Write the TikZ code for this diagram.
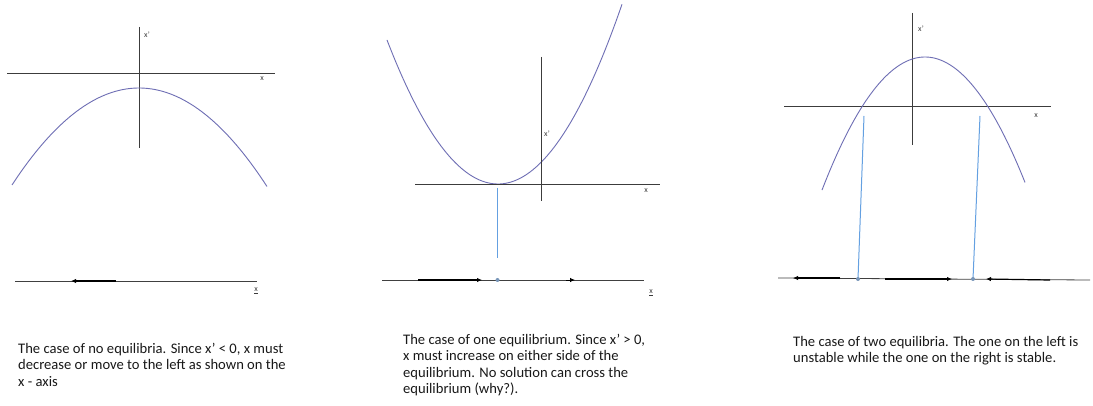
\documentclass[tikz,border=0pt]{standalone}
\usepackage{fontspec}
\setmainfont{Carlito}
\usetikzlibrary{arrows.meta}
\definecolor{axisgray}{RGB}{60,60,60}
\definecolor{curve}{RGB}{110,110,180}
\definecolor{eqblue}{RGB}{100,160,225}
\definecolor{dotblue}{RGB}{120,150,185}
\definecolor{txt}{RGB}{25,25,25}
\tikzset{
  axis/.style={draw=axisgray, line width=0.8pt},
  parab/.style={draw=curve, line width=0.9pt},
  eqline/.style={draw=eqblue, line width=1pt},
  xline/.style={draw=black!75, line width=0.8pt},
  flow/.style={draw=black, line width=1.2pt, -{Latex[length=5pt,width=4.5pt]}},
  eqdot/.style={circle, fill=dotblue, inner sep=0pt, minimum size=4pt},
  lab/.style={font=\fontsize{8}{9}\selectfont, text=axisgray, inner sep=0pt},
  caption/.style={font=\fontsize{14.6}{16.5}\selectfont, text=txt, align=left, anchor=north west, inner sep=0pt}
}
\begin{document}
\begin{tikzpicture}[x=1pt,y=-1pt]
\useasboundingbox[fill=white] (0,0) rectangle (1093,406);
% ---------- panel 1
\draw[axis] (139,27) -- (139,148);
\draw[axis] (7,73) -- (275,73);
\node[lab] (p1yl) at (147,35) {x’};
\node[lab] (p1xl) at (262,79) {x};
\draw[parab, domain=-127:128, samples=80, smooth] plot (\x+139, {88+0.00601*\x*\x});
\draw[xline] (15,281) -- (257,281);
\draw[flow] (116,281) -- (71,281);
\node[lab] (p1x) at (256,291) {\underline{x}};
% ---------- panel 2
\draw[parab, domain=-111:124, samples=80, smooth] plot (\x+498, {184-0.01169*\x*\x});
\draw[axis] (541,57) -- (541,201);
\draw[axis] (415,184) -- (660,184);
\node[lab] (p2yl) at (547,134) {x’};
\node[lab] (p2xl) at (646,191) {x};
\coordinate (e2top) at (497.5,188);
\coordinate (e2) at (497.5,280);
\draw[eqline] (e2top) -- (497.5,258);
\draw[xline] (382,280) -- (644,280);
\draw[flow] (418,280) -- (482,280);
\draw[flow, line width=0.8pt] (566,280) -- (575,280);
\node[eqdot] at (e2) {};
\node[lab] (p2x) at (651,293) {\underline{x}};
% ---------- panel 3
\draw[axis] (912,13) -- (912,145);
\draw[axis] (784,106) -- (1051,106);
\node[lab] (p3yl) at (921,29) {x’};
\node[lab] (p3xl) at (1036,116) {x};
\draw[parab, domain=-103:100, samples=80, smooth] plot (\x+925, {57+0.01254*\x*\x});
\coordinate (e3a) at (858,279);
\coordinate (e3b) at (973,279);
\draw[eqline] (864,116) -- (e3a);
\draw[eqline] (980,116) -- (e3b);
\draw[xline] (778,278) -- (1090,280);
\draw[flow] (840,278) -- (793,278);
\draw[flow] (885,279) -- (952,279);
\draw[flow] (1050,280) -- (986,279);
\node[eqdot] at (e3a) {};
\node[eqdot] at (e3b) {};
% ---------- captions
\node[caption] (c1) at (18,343) {The case of no equilibria. Since x’ < 0, x must\\decrease or move to the left as shown on the\\x - axis};
\node[caption] (c2) at (403,334) {The case of one equilibrium. Since x’ > 0,\\x must increase on either side of the\\equilibrium. No solution can cross the\\equilibrium (why?).};
\node[caption] (c3) at (793,336) {The case of two equilibria. The one on the left is\\unstable while the one on the right is stable.};
\end{tikzpicture}
\end{document}
